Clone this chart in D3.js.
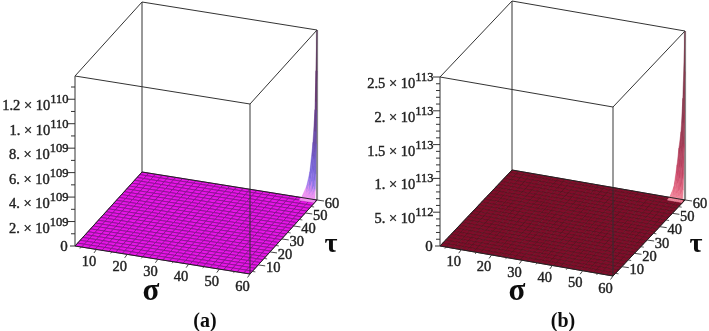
<!DOCTYPE html>
<meta charset="utf-8">
<style>
  html, body { margin: 0; background: #fff; overflow: hidden; }
  text { font-family: "Liberation Serif", serif; fill: #222; }
  .num { font-size: 14.5px; stroke: #222; stroke-width: .4px; }
</style>
<script src="https://d3js.org/d3.v7.min.js"></script>
<div id="chart"></div>
<script>

// mesh lines of the flat part of the surface
var sigmaGrid = [3,5.2,7.4,9.6,11.8,14,16.2,18.4,20.6,22.8,25,27.2,29.4,31.6,33.8,36,38.2,40.4,42.6,44.8,47,49.2,51.4,53.6,55.8,58,60]
var tauGrid = [3,5.2,7.4,9.6,11.8,14,16.2,18.4,20.6,22.8,25,27.2,29.4,31.6,33.8,36,38.2,40.4,42.6,44.8,47,49.2,51.4,53.6,55.8,58,60]

var axisTicks = [10,20,30,40,50,60]
var axisMinor = [5,15,25,35,45,55]

// panel (a)
var zTicksA = [2e109,4e109,6e109,8e109,1e110,1.2e110]
var zMantA = ["2.","4.","6.","8.","1.","1.2"]
var zExpA = ["109","109","109","109","110","110"]
var zMinorA = [1e109,3e109,5e109,7e109,9e109,1.1e110,1.3e110]
var zMaxA = 1.39e110
var peakSigmaA = [55,56.7,57.7,58.7,59.35,59.67,60]
var peakTauA = [58,58.6,59,59.4,59.7,59.9,60]
var peakZA = [ // 1e110, rows follow peakTauA
  [0,0,0,0,0,0,0],
  [0,.008,.017,.036,.056,.080,.106],
  [0,.017,.036,.075,.118,.169,.222],
  [0,.036,.074,.156,.247,.354,.466],
  [0,.056,.118,.247,.391,.560,.737],
  [0,.080,.169,.354,.560,.803,1.056],
  [0,.106,.222,.466,.737,1.056,1.39]
]

// panel (b)
var zTicksB = [5e112,1e113,1.5e113,2e113,2.5e113]
var zMantB = ["5.","1.","1.5","2.","2.5"]
var zExpB = ["112","113","113","113","113"]
var zMinorB = [1e112,2e112,3e112,4e112,6e112,7e112,8e112,9e112,1.1e113,1.2e113,1.3e113,1.4e113,1.6e113,1.7e113,1.8e113,1.9e113,2.1e113,2.2e113,2.3e113,2.4e113]
var zMaxB = 2.5e113
var peakSigmaB = [55,56.4,57.4,58,58.7,59.3,60]
var peakTauB = [58,58.6,59,59.4,59.7,59.9,60]
var peakZB = [ // 1e113, rows follow peakTauB
  [0,0,0,0,0,0,0],
  [0,.013,.038,.057,.076,.114,.19],
  [0,.028,.08,.12,.16,.24,.4],
  [0,.059,.168,.251,.335,.503,.838],
  [0,.093,.265,.398,.53,.795,1.325],
  [0,.133,.38,.57,.76,1.14,1.9],
  [0,.175,.5,.75,1.0,1.5,2.5]
]

var svg = d3.select("#chart")
  .append("svg")
    .attr("width", 709)
    .attr("height", 331)

// the reference is a soft scan
svg.append("defs").append("filter")
    .attr("id", "soft")
    .attr("x", "-5%").attr("y", "-5%").attr("width", "110%").attr("height", "110%")
  .append("feGaussianBlur")
    .attr("stdDeviation", 0.4)

function drawPanel(p) {
  var g = svg.append("g").attr("filter", "url(#soft)")

  var sx = d3.scaleLinear().domain([3,60]).range([0, p.sigmaVec[0]])
  var sy = d3.scaleLinear().domain([3,60]).range([0, p.sigmaVec[1]])
  var tx = d3.scaleLinear().domain([3,60]).range([0, p.tauVec[0]])
  var ty = d3.scaleLinear().domain([3,60]).range([0, p.tauVec[1]])
  var zy = d3.scaleLinear().domain([0, p.zMax]).range([0, -p.height])

  function project(s, t, z) {
    return [p.origin[0] + sx(s) + tx(t), p.origin[1] + sy(s) + ty(t) + zy(z)]
  }
  function line(a, b, stroke, width) {
    g.append("line")
      .attr("x1", a[0]).attr("y1", a[1])
      .attr("x2", b[0]).attr("y2", b[1])
      .attr("stroke", stroke)
      .attr("stroke-width", width)
  }
  var box = {
    leftTop: project(3,3,p.zMax), leftBot: project(3,3,0),
    backTop: project(3,60,p.zMax), backBot: project(3,60,0),
    rightTop: project(60,60,p.zMax), rightBot: project(60,60,0),
    frontTop: project(60,3,p.zMax), frontBot: project(60,3,0)
  }

  // back of the box
  line(box.backTop, box.backBot, "#555", 1.2)
  line(box.leftTop, box.backTop, "#333", 1)
  line(box.backTop, box.rightTop, "#333", 1)
  line(box.rightTop, box.rightBot, "#8a8a8a", 2.2)

  // flat surface, far cells first
  var cells = []
  d3.range(tauGrid.length - 2, -1, -1).forEach(function(j) {
    d3.range(0, sigmaGrid.length - 1).forEach(function(i) {
      cells.push([
        project(sigmaGrid[i], tauGrid[j], 0),
        project(sigmaGrid[i+1], tauGrid[j], 0),
        project(sigmaGrid[i+1], tauGrid[j+1], 0),
        project(sigmaGrid[i], tauGrid[j+1], 0)
      ])
    })
  })
  g.selectAll(null)
    .data(cells)
    .enter()
    .append("path")
      .attr("d", function(d){ return "M" + d.join("L") + "Z" })
      .attr("fill", p.floor)
      .attr("stroke", p.mesh)
      .attr("stroke-width", 0.7)

  // the peak in the far corner
  var peakColor = d3.scaleLinear().domain(p.peakStops).range(p.peakColors)
  var peak = []
  d3.range(p.peakTau.length - 2, -1, -1).forEach(function(j) {
    d3.range(0, p.peakSigma.length - 1).forEach(function(i) {
      var zs = [p.peakZ[j][i], p.peakZ[j][i+1], p.peakZ[j+1][i+1], p.peakZ[j+1][i]]
      peak.push({
        level: d3.mean(zs) / d3.max(p.peakZ, function(r){ return d3.max(r) }),
        pts: [
          project(p.peakSigma[i], p.peakTau[j], zs[0] * p.peakUnit),
          project(p.peakSigma[i+1], p.peakTau[j], zs[1] * p.peakUnit),
          project(p.peakSigma[i+1], p.peakTau[j+1], zs[2] * p.peakUnit),
          project(p.peakSigma[i], p.peakTau[j+1], zs[3] * p.peakUnit)
        ]
      })
    })
  })
  g.selectAll(null)
    .data(peak.filter(function(d){ return d.level > 0 }))
    .enter()
    .append("path")
      .attr("d", function(d){ return "M" + d.pts.join("L") + "Z" })
      .attr("fill", function(d){ return peakColor(d.level) })
      .attr("stroke", function(d){ return peakColor(d.level) })
      .attr("stroke-width", 0.5)

  // front of the box
  line(box.leftTop, box.frontTop, "#333", 1)
  line(box.frontTop, box.rightTop, "#333", 1)
  line(box.frontTop, box.frontBot, "rgba(50,50,50,.7)", 1.4)
  line(box.leftTop, box.leftBot, "#555", 1.2)
  line(box.leftBot, box.frontBot, "#222", 1)
  line(box.frontBot, box.rightBot, "#222", 1)
  line(box.backBot, box.rightBot, "#222", 1)
  line(box.leftBot, box.backBot, "#222", 1)

  // z axis
  var ax = box.leftBot[0]
  p.zMinor.forEach(function(v) {
    var y = project(3,3,v)[1]
    line([ax - 4, y], [ax, y], "#333", 1)
  })
  p.zTicks.forEach(function(v, i) {
    var y = project(3,3,v)[1]
    line([ax - 7, y], [ax, y], "#333", 1)
    var label = g.append("text")
      .attr("class", "num")
      .attr("x", ax - 6.5)
      .attr("y", y + 11)
      .attr("text-anchor", "end")
    label.append("tspan").text(p.zMant[i] + " \u00d7 10")
    label.append("tspan")
      .attr("dy", -7)
      .style("font-size", "12.5px")
      .text(p.zExp[i])
  })
  g.append("text")
    .attr("class", "num")
    .attr("x", ax - 11)
    .attr("y", box.leftBot[1] + 5)
    .attr("text-anchor", "middle")
    .style("font-size", "15px")
    .text("0")
  line([ax - 5, box.leftBot[1]], box.leftBot, "#333", 1)

  // sigma axis
  axisMinor.forEach(function(v) {
    var a = project(v,3,0)
    line(a, [a[0] - 1.2, a[1] + 1.6], "#333", .8)
  })
  axisTicks.forEach(function(v) {
    var a = project(v,3,0)
    line(a, [a[0] - 2.5, a[1] + 3.5], "#333", .9)
    g.append("text")
      .attr("class", "num")
      .attr("x", a[0] - 7.5)
      .attr("y", a[1] + 16.5)
      .attr("text-anchor", "middle")
      .text(v)
  })

  // tau axis
  axisMinor.forEach(function(v) {
    var a = project(60,v,0)
    line(a, [a[0] + 3, a[1] + .5], "#333", .8)
  })
  axisTicks.forEach(function(v) {
    var a = project(60,v,0)
    line(a, [a[0] + 7, a[1] + 1], "#333", .9)
    g.append("text")
      .attr("class", "num")
      .attr("x", a[0] + 15)
      .attr("y", a[1] + 7.5)
      .attr("text-anchor", "middle")
      .text(v)
  })

  // axis titles and panel letter
  g.append("text")
    .attr("x", p.sigmaTitle[0]).attr("y", p.sigmaTitle[1])
    .attr("text-anchor", "middle")
    .style("font-weight", "bold")
    .style("font-size", "31px")
    .style("fill", "#111")
    .text("\u03c3")
  g.append("text")
    .attr("x", p.tauTitle[0]).attr("y", p.tauTitle[1])
    .attr("text-anchor", "middle")
    .style("font-weight", "bold")
    .style("font-size", "28px")
    .style("fill", "#111")
    .text("\u03c4")
  g.append("text")
    .attr("x", p.letter[0]).attr("y", p.letter[1])
    .attr("text-anchor", "middle")
    .style("font-weight", "bold")
    .style("font-size", "20px")
    .style("fill", "#111")
    .text(p.name)
}

drawPanel({
  name: "(a)",
  origin: [75, 246], sigmaVec: [175, 28], tauVec: [67, -74], height: 170,
  zMax: zMaxA, zTicks: zTicksA, zMant: zMantA, zExp: zExpA, zMinor: zMinorA,
  peakSigma: peakSigmaA, peakTau: peakTauA, peakZ: peakZA, peakUnit: 1e110,
  floor: "#e614e6", mesh: "#780a80",
  peakStops: [0, .04, .12, .3, .6, 1],
  peakColors: ["#f490f0", "#e890f0", "#8070e8", "#6a50b8", "#66366a", "#503050"],
  sigmaTitle: [151, 300], tauTitle: [331, 252], letter: [205, 327]
})

drawPanel({
  name: "(b)",
  origin: [440, 246], sigmaVec: [173, 30], tauVec: [72, -76], height: 169,
  zMax: zMaxB, zTicks: zTicksB, zMant: zMantB, zExp: zExpB, zMinor: zMinorB,
  peakSigma: peakSigmaB, peakTau: peakTauB, peakZ: peakZB, peakUnit: 1e113,
  floor: "#7f0e2a", mesh: "#540a1c",
  peakStops: [0, .05, .15, .4, 1],
  peakColors: ["#f08ca0", "#e87088", "#c84868", "#983850", "#603040"],
  sigmaTitle: [517, 300], tauTitle: [696, 252], letter: [563, 327]
})

</script>
